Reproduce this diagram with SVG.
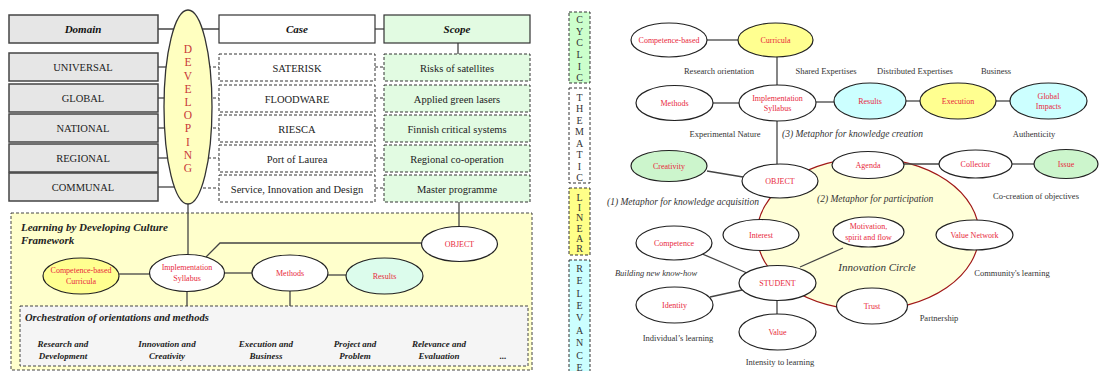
<svg xmlns="http://www.w3.org/2000/svg" width="1100" height="371" viewBox="0 0 1100 371">
<style>
text{font-family:"Liberation Serif","Times New Roman",serif;}
.box{fill:#e6e6e6;stroke:#444;stroke-width:1.5}
.case{fill:#fff;stroke:#333;stroke-width:1.2}
.scope{fill:#e2fbe2;stroke:#333;stroke-width:1.2}
.dcase{fill:#fff;stroke:#333;stroke-width:1;stroke-dasharray:3 2}
.dscope{fill:#e2fbe2;stroke:#333;stroke-width:1;stroke-dasharray:3 2}
.bt{font-size:10.5px;fill:#222;text-anchor:middle}
.hd{font-size:11px;font-weight:bold;font-style:italic;fill:#111;text-anchor:middle}
.el{stroke:#222;stroke-width:1.2;fill:#fff}
.yel{fill:#ffff90}
.cyan{fill:#ccffff}
.grn{fill:#ccf5cc}
.mint{fill:#dcfcec}
.nl{font-size:8px;fill:#e8283c;text-anchor:middle}
.gl{font-size:8.5px;fill:#333;text-anchor:middle}
.it{font-size:9.5px;font-style:italic;fill:#333}
.bi{font-size:9px;font-weight:bold;font-style:italic;fill:#222;text-anchor:middle}
.ln{stroke:#444;stroke-width:1.3;fill:none}
.dl{stroke:#333;stroke-width:1;fill:none;stroke-dasharray:3 2}
.bar{stroke:#333;stroke-width:1;stroke-dasharray:3 2}
.bl{font-size:10px;fill:#333;text-anchor:middle}
.dv{font-size:11.5px;fill:#c83838;text-anchor:middle}
</style>

<g id="containers">
  <rect id="framework" x="11" y="213" width="521" height="157" fill="#ffffcc" stroke="#444" stroke-width="1" stroke-dasharray="3 2"/>
  <text x="21" y="231" style="font-size:11px;font-weight:bold;font-style:italic;fill:#222">Learning by Developing Culture</text>
  <text x="21" y="244" style="font-size:11px;font-weight:bold;font-style:italic;fill:#222">Framework</text>
  <rect id="orchestration" x="20" y="306" width="508" height="60" fill="#f5f5f5" stroke="#444" stroke-width="1" stroke-dasharray="3 2"/>
  <text x="25" y="321" style="font-size:10.5px;font-weight:bold;font-style:italic;fill:#222">Orchestration of orientations and methods</text>
  <text class="bi" x="63" y="347">Research and</text><text class="bi" x="63" y="359">Development</text>
  <text class="bi" x="167" y="347">Innovation and</text><text class="bi" x="167" y="359">Creativity</text>
  <text class="bi" x="266" y="347">Execution and</text><text class="bi" x="266" y="359">Business</text>
  <text class="bi" x="355" y="347">Project and</text><text class="bi" x="355" y="359">Problem</text>
  <text class="bi" x="439" y="347">Relevance and</text><text class="bi" x="439" y="359">Evaluation</text>
  <text class="bi" x="503" y="359">...</text>
  <ellipse id="innovation-circle" cx="868" cy="234" rx="111" ry="76" fill="#ffffd8" stroke="#a01818" stroke-width="1.2"/>
  <text x="877" y="271" style="font-size:11px;font-style:italic;fill:#333;text-anchor:middle">Innovation Circle</text>
</g>

<g id="connectors">
  <line class="ln" x1="158" y1="29" x2="219" y2="29"/>
  <line class="ln" x1="375" y1="29" x2="384" y2="29"/>
  <line class="ln" x1="158" y1="67" x2="188" y2="67"/>
  <line class="ln" x1="158" y1="98" x2="188" y2="98"/>
  <line class="ln" x1="158" y1="128" x2="188" y2="128"/>
  <line class="ln" x1="158" y1="158" x2="188" y2="158"/>
  <line class="ln" x1="158" y1="187" x2="188" y2="187"/>
  <line class="dl" x1="188" y1="67" x2="219" y2="67"/>
  <line class="dl" x1="188" y1="98" x2="219" y2="98"/>
  <line class="dl" x1="188" y1="128" x2="219" y2="128"/>
  <line class="dl" x1="188" y1="158" x2="219" y2="158"/>
  <line class="dl" x1="188" y1="188" x2="219" y2="188"/>
  <line class="dl" x1="375" y1="67" x2="384" y2="67"/>
  <line class="dl" x1="375" y1="98" x2="384" y2="98"/>
  <line class="dl" x1="375" y1="128" x2="384" y2="128"/>
  <line class="dl" x1="375" y1="158" x2="384" y2="158"/>
  <line class="dl" x1="375" y1="188" x2="384" y2="188"/>
  <line class="ln" x1="458" y1="43" x2="458" y2="54"/>
  <line class="ln" x1="459" y1="202" x2="459" y2="227"/>
  <line class="ln" x1="188" y1="200" x2="188" y2="255"/>
  <line class="ln" x1="119" y1="274" x2="150" y2="274"/>
  <polyline class="ln" points="206,257 220,243 422,243"/>
  <line class="ln" x1="224" y1="273" x2="252" y2="273"/>
  <line class="ln" x1="328" y1="275" x2="346" y2="275"/>
  <line class="ln" x1="187" y1="291" x2="187" y2="306"/>
  <line class="ln" x1="290" y1="291" x2="290" y2="306"/>

  <line class="ln" x1="707" y1="40" x2="738" y2="40"/>
  <line class="ln" x1="777" y1="57" x2="777" y2="86"/>
  <line class="ln" x1="713" y1="103" x2="739" y2="103"/>
  <line class="ln" x1="816" y1="102" x2="834" y2="102"/>
  <line class="ln" x1="906" y1="101" x2="920" y2="101"/>
  <line class="ln" x1="996" y1="101" x2="1010" y2="101"/>
  <line class="ln" x1="777" y1="121" x2="777" y2="164"/>
  <line class="ln" x1="707" y1="171" x2="743" y2="177"/>
  <line class="ln" x1="904" y1="164" x2="939" y2="164"/>
  <line class="ln" x1="1012" y1="164" x2="1034" y2="164"/>
  <line class="ln" x1="700" y1="253" x2="747" y2="273"/>
  <line class="ln" x1="843" y1="248" x2="800" y2="267"/>
  <line class="ln" x1="710" y1="297" x2="742" y2="290"/>
  <line class="ln" x1="777" y1="300" x2="777" y2="314"/>
</g>

<g id="domain"><rect class="box" x="9" y="15" width="149" height="28"/><text class="hd" x="83" y="33">Domain</text></g>
<g id="universal"><rect class="box" x="9" y="53" width="149" height="28"/><text class="bt" x="83" y="71">UNIVERSAL</text></g>
<g id="global"><rect class="box" x="9" y="84" width="149" height="28"/><text class="bt" x="83" y="102">GLOBAL</text></g>
<g id="national"><rect class="box" x="9" y="114" width="149" height="28"/><text class="bt" x="83" y="132">NATIONAL</text></g>
<g id="regional"><rect class="box" x="9" y="144" width="149" height="28"/><text class="bt" x="83" y="162">REGIONAL</text></g>
<g id="communal"><rect class="box" x="9" y="173" width="149" height="28"/><text class="bt" x="83" y="191">COMMUNAL</text></g>

<g id="developing">
  <ellipse cx="188" cy="107" rx="24" ry="97" fill="#ffffc0" stroke="#333" stroke-width="1.3"/>
  <text class="dv" x="188" y="53">D</text><text class="dv" x="188" y="66">E</text><text class="dv" x="188" y="80">V</text>
  <text class="dv" x="188" y="93">E</text><text class="dv" x="188" y="106">L</text><text class="dv" x="188" y="119">O</text>
  <text class="dv" x="188" y="132">P</text><text class="dv" x="188" y="146">I</text><text class="dv" x="188" y="159">N</text>
  <text class="dv" x="188" y="172">G</text>
</g>

<g id="case"><rect class="case" x="219" y="15" width="156" height="28"/><text class="hd" x="297" y="33">Case</text></g>
<g id="scope"><rect class="scope" x="384" y="15" width="146" height="28"/><text class="hd" x="457" y="33">Scope</text></g>
<g id="saterisk"><rect class="dcase" x="219" y="54" width="156" height="27"/><text class="bt" x="297" y="72">SATERISK</text></g>
<g id="floodware"><rect class="dcase" x="219" y="85" width="156" height="27"/><text class="bt" x="297" y="103">FLOODWARE</text></g>
<g id="riesca"><rect class="dcase" x="219" y="115" width="156" height="27"/><text class="bt" x="297" y="133">RIESCA</text></g>
<g id="port-of-laurea"><rect class="dcase" x="219" y="145" width="156" height="27"/><text class="bt" x="297" y="163">Port of Laurea</text></g>
<g id="service"><rect class="dcase" x="219" y="175" width="156" height="27"/><text class="bt" x="297" y="193">Service, Innovation and Design</text></g>
<g id="risks"><rect class="dscope" x="384" y="54" width="146" height="27"/><text class="bt" x="457" y="72">Risks of satellites</text></g>
<g id="lasers"><rect class="dscope" x="384" y="85" width="146" height="27"/><text class="bt" x="457" y="103">Applied green lasers</text></g>
<g id="finnish"><rect class="dscope" x="384" y="115" width="146" height="27"/><text class="bt" x="457" y="133">Finnish critical systems</text></g>
<g id="regional-coop"><rect class="dscope" x="384" y="145" width="146" height="27"/><text class="bt" x="457" y="163">Regional co-operation</text></g>
<g id="master"><rect class="dscope" x="384" y="175" width="146" height="27"/><text class="bt" x="457" y="193">Master programme</text></g>

<g id="l-competence"><ellipse class="el yel" cx="81" cy="276" rx="38" ry="18"/><text class="nl" x="81" y="273">Competence-based</text><text class="nl" x="81" y="284">Curricula</text></g>
<g id="l-implementation"><ellipse class="el" cx="187" cy="273" rx="37.5" ry="18.5"/><text class="nl" x="187" y="270">Implementation</text><text class="nl" x="187" y="281">Syllabus</text></g>
<g id="l-methods"><ellipse class="el" cx="290" cy="273" rx="38" ry="18"/><text class="nl" x="290" y="276">Methods</text></g>
<g id="l-results"><ellipse class="el mint" cx="384.5" cy="276" rx="38.5" ry="18"/><text class="nl" x="384.5" y="279">Results</text></g>
<g id="l-object"><ellipse class="el" cx="459.5" cy="244" rx="38" ry="17.5"/><text class="nl" x="459.5" y="247">OBJECT</text></g>

<g id="bar-cyclic"><rect class="bar" x="569" y="12" width="21" height="71" fill="#ccffcc"/>
  <text class="bl" x="579.5" y="23">C</text><text class="bl" x="579.5" y="35">Y</text><text class="bl" x="579.5" y="46">C</text><text class="bl" x="579.5" y="58">L</text><text class="bl" x="579.5" y="70">I</text><text class="bl" x="579.5" y="81">C</text></g>
<g id="bar-thematic"><rect class="bar" x="569" y="88" width="21" height="95" fill="#fff"/>
  <text class="bl" x="579.5" y="101">T</text><text class="bl" x="579.5" y="112">H</text><text class="bl" x="579.5" y="124">E</text><text class="bl" x="579.5" y="135">M</text><text class="bl" x="579.5" y="147">A</text><text class="bl" x="579.5" y="158">T</text><text class="bl" x="579.5" y="170">I</text><text class="bl" x="579.5" y="181">C</text></g>
<g id="bar-linear"><rect class="bar" x="569" y="188" width="21" height="67" fill="#ffff88"/>
  <text class="bl" x="579.5" y="201">L</text><text class="bl" x="579.5" y="211">I</text><text class="bl" x="579.5" y="221">N</text><text class="bl" x="579.5" y="232">E</text><text class="bl" x="579.5" y="242">A</text><text class="bl" x="579.5" y="252">R</text></g>
<g id="bar-relevance"><rect class="bar" x="569" y="260" width="21" height="115" fill="#ccffff"/>
  <text class="bl" x="579.5" y="272">R</text><text class="bl" x="579.5" y="284">E</text><text class="bl" x="579.5" y="297">L</text><text class="bl" x="579.5" y="309">E</text><text class="bl" x="579.5" y="321">V</text><text class="bl" x="579.5" y="334">A</text><text class="bl" x="579.5" y="346">N</text><text class="bl" x="579.5" y="359">C</text><text class="bl" x="579.5" y="371">E</text></g>

<g id="labels">
  <text class="gl" x="719" y="74">Research orientation</text>
  <text class="gl" x="826" y="74">Shared Expertises</text>
  <text class="gl" x="915" y="74">Distributed Expertises</text>
  <text class="gl" x="996" y="74">Business</text>
  <text class="gl" x="725" y="137">Experimental Nature</text>
  <text class="it" x="782" y="137">(3) Metaphor for knowledge creation</text>
  <text class="gl" x="1034" y="137">Authenticity</text>
  <text class="gl" x="1036" y="199">Co-creation of objectives</text>
  <text class="it" x="607" y="205">(1) Metaphor for knowledge acquisition</text>
  <text class="it" x="817" y="202">(2) Metaphor for participation</text>
  <text class="gl" x="656" y="276" style="font-style:italic">Building new know-how</text>
  <text class="gl" x="1012" y="276">Community's learning</text>
  <text class="gl" x="939" y="321">Partnership</text>
  <text class="gl" x="678" y="341">Individual’s learning</text>
  <text class="gl" x="780" y="365">Intensity to learning</text>
</g>

<g id="r-competence-based"><ellipse class="el" cx="669" cy="40" rx="38" ry="17"/><text class="nl" x="669" y="43">Competence-based</text></g>
<g id="r-curricula"><ellipse class="el yel" cx="775.5" cy="40" rx="37.5" ry="17"/><text class="nl" x="775.5" y="43">Curricula</text></g>
<g id="r-methods"><ellipse class="el" cx="674.5" cy="103" rx="38.5" ry="17.5"/><text class="nl" x="674.5" y="106">Methods</text></g>
<g id="r-implementation"><ellipse class="el" cx="777.5" cy="103" rx="38.5" ry="18"/><text class="nl" x="777.5" y="101">Implementation</text><text class="nl" x="777.5" y="111">Syllabus</text></g>
<g id="r-results"><ellipse class="el cyan" cx="870" cy="101" rx="36" ry="18"/><text class="nl" x="870" y="104">Results</text></g>
<g id="r-execution"><ellipse class="el yel" cx="958" cy="101" rx="38" ry="18"/><text class="nl" x="958" y="104">Execution</text></g>
<g id="r-global"><ellipse class="el cyan" cx="1048.5" cy="101" rx="38.5" ry="18"/><text class="nl" x="1048.5" y="99">Global</text><text class="nl" x="1048.5" y="109">Impacts</text></g>
<g id="r-creativity"><ellipse class="el grn" cx="669" cy="166" rx="38" ry="15.5"/><text class="nl" x="669" y="169">Creativity</text></g>
<g id="r-object"><ellipse class="el" cx="780" cy="181" rx="38" ry="17"/><text class="nl" x="780" y="184">OBJECT</text></g>
<g id="r-agenda"><ellipse class="el" cx="868" cy="165" rx="36" ry="13.5"/><text class="nl" x="868" y="168">Agenda</text></g>
<g id="r-collector"><ellipse class="el" cx="975.5" cy="164" rx="36.5" ry="14"/><text class="nl" x="975.5" y="167">Collector</text></g>
<g id="r-issue"><ellipse class="el grn" cx="1066" cy="164" rx="32" ry="14.5"/><text class="nl" x="1066" y="167">Issue</text></g>
<g id="r-interest"><ellipse class="el" cx="761" cy="235" rx="38" ry="15.5"/><text class="nl" x="761" y="238">Interest</text></g>
<g id="r-motivation"><ellipse class="el" cx="868.5" cy="232" rx="35.5" ry="15"/><text class="nl" x="868.5" y="229">Motivation,</text><text class="nl" x="868.5" y="240">spirit and flow</text></g>
<g id="r-value-network"><ellipse class="el" cx="974.5" cy="235" rx="38.5" ry="15"/><text class="nl" x="974.5" y="238">Value Network</text></g>
<g id="r-competence"><ellipse class="el" cx="674" cy="243" rx="38" ry="17"/><text class="nl" x="674" y="246">Competence</text></g>
<g id="r-student"><ellipse class="el" cx="777.5" cy="283" rx="38.5" ry="17.5"/><text class="nl" x="777.5" y="286">STUDENT</text></g>
<g id="r-identity"><ellipse class="el" cx="674.5" cy="305" rx="38.5" ry="18"/><text class="nl" x="674.5" y="308">Identity</text></g>
<g id="r-trust"><ellipse class="el" cx="872" cy="306" rx="35.5" ry="18"/><text class="nl" x="872" y="309">Trust</text></g>
<g id="r-value"><ellipse class="el" cx="777.5" cy="332" rx="38.5" ry="18"/><text class="nl" x="777.5" y="335">Value</text></g>
</svg>
